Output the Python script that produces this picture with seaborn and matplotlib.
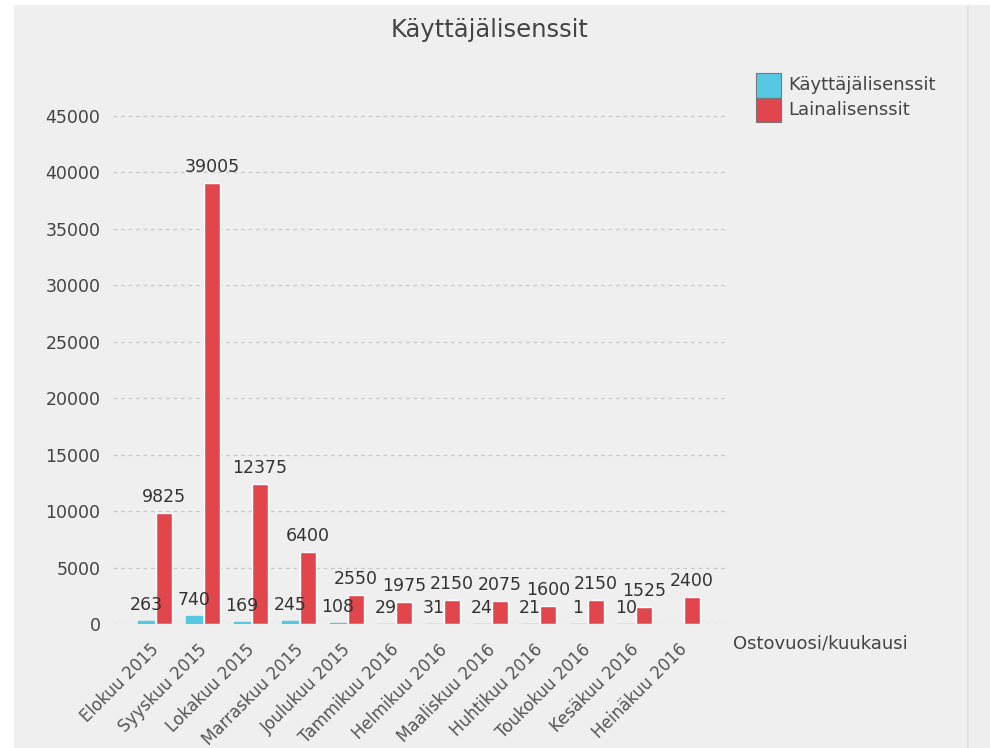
import numpy as np
import pandas as pd
import seaborn as sns
import matplotlib.pyplot as plt
import matplotlib.transforms as mtransforms
from matplotlib.patches import Rectangle

kuukaudet = ['Elokuu 2015', 'Syyskuu 2015', 'Lokakuu 2015', 'Marraskuu 2015',
             'Joulukuu 2015', 'Tammikuu 2016', 'Helmikuu 2016', 'Maaliskuu 2016',
             'Huhtikuu 2016', 'Toukokuu 2016', 'Kesäkuu 2016', 'Heinäkuu 2016']
kayttajalisenssit = [263, 740, 169, 245, 108, 29, 31, 24, 21, 1, 10, np.nan]
lainalisenssit = [9825, 39005, 12375, 6400, 2550, 1975, 2150, 2075, 1600, 2150, 1525, 2400]
sarjat = ['Käyttäjälisenssit', 'Lainalisenssit']
varit = ['#57c8e4', '#e0464b']
y_ticks = [0, 5000, 10000, 15000, 20000, 25000, 30000, 35000, 40000, 45000]

df = pd.DataFrame({
    'kuukausi': kuukaudet * 2,
    'arvo': kayttajalisenssit + lainalisenssit,
    'sarja': [sarjat[0]] * len(kuukaudet) + [sarjat[1]] * len(kuukaudet),
})

sns.set_style('white')
plt.rcParams['font.family'] = ['DejaVu Sans']

W, H = 990, 748
fig = plt.figure(figsize=(W / 100, H / 100), dpi=100)
fig.patch.set_facecolor('white')
# gray panel background
fig.patches.append(Rectangle((14 / W, 0), (967 - 14) / W, 1 - 5 / H,
                             transform=fig.transFigure, facecolor='#efefef',
                             edgecolor='none', zorder=-10))
fig.patches.append(Rectangle((967 / W, 0), 1 - 967 / W, 1 - 5 / H,
                             transform=fig.transFigure, facecolor='#eeeeee',
                             edgecolor='none', zorder=-9))
fig.patches.append(Rectangle((967 / W, 0), 1.5 / W, 1 - 5 / H,
                             transform=fig.transFigure, facecolor='#e2e2e2',
                             edgecolor='none', zorder=-8))

y0, ytop = 624, 93
ax = fig.add_axes([113 / W, (H - y0) / H, (728 - 113) / W, (y0 - ytop) / H])
ax.set_facecolor('none')

sns.barplot(data=df, x='kuukausi', y='arvo', hue='sarja', palette=varit,
            width=0.75, gap=0.11, ax=ax, legend=False, saturation=1)

# small blue bars still show as thin lines
for bar in ax.containers[0]:
    bar.set_edgecolor(varit[0])
    bar.set_linewidth(1.0)

for c in ax.containers:
    ax.bar_label(c, fmt='%d', padding=5, fontsize=12.5, color='#333333')

ax.set_ylim(0, 47000)
ax.set_xlim(-0.875, 11.94)
ax.set_yticks(y_ticks)
ax.set_yticklabels([str(v) for v in y_ticks], fontsize=12.5, color='#444444')
ax.yaxis.grid(True, linestyle=(0, (3, 3)), color='#c8c8c8', linewidth=0.9)
ax.set_axisbelow(True)
for s in ax.spines.values():
    s.set_visible(False)
ax.tick_params(axis='both', length=0)
ax.tick_params(axis='y', pad=9)
ax.set_xticks(range(len(kuukaudet)))
ax.set_xticklabels(kuukaudet, rotation=45, ha='right', rotation_mode='anchor',
                   fontsize=12, color='#555555')
ax.tick_params(axis='x', pad=12)
shift = mtransforms.ScaledTranslation(-5 / 100, 0, fig.dpi_scale_trans)
for lab in ax.get_xticklabels():
    lab.set_transform(lab.get_transform() + shift)
ax.set_ylabel('')
ax.set_xlabel('Ostovuosi/kuukausi', fontsize=13, color='#444444',
              ha='left', va='center')
ax.xaxis.set_label_coords((733 - 113) / (728 - 113), -(643 - y0) / (y0 - ytop))

fig.text(490 / W, 1 - 30 / H, 'Käyttäjälisenssit', ha='center', va='center',
         fontsize=17.5, color='#444444')

# legend: two stacked swatches with labels
for i, (nimi, vari) in enumerate(zip(sarjat, varit)):
    top = 73 + i * 24.5
    fig.patches.append(Rectangle((756 / W, 1 - (top + 24.5) / H), 25 / W, 24.5 / H,
                                 transform=fig.transFigure, facecolor=vari,
                                 edgecolor='#777777', linewidth=0.8))
    fig.text(788 / W, 1 - (top + 12.5) / H, nimi, ha='left', va='center',
             fontsize=13, color='#444444')

fig.savefig('out.png', dpi=100)
plt.close(fig)
